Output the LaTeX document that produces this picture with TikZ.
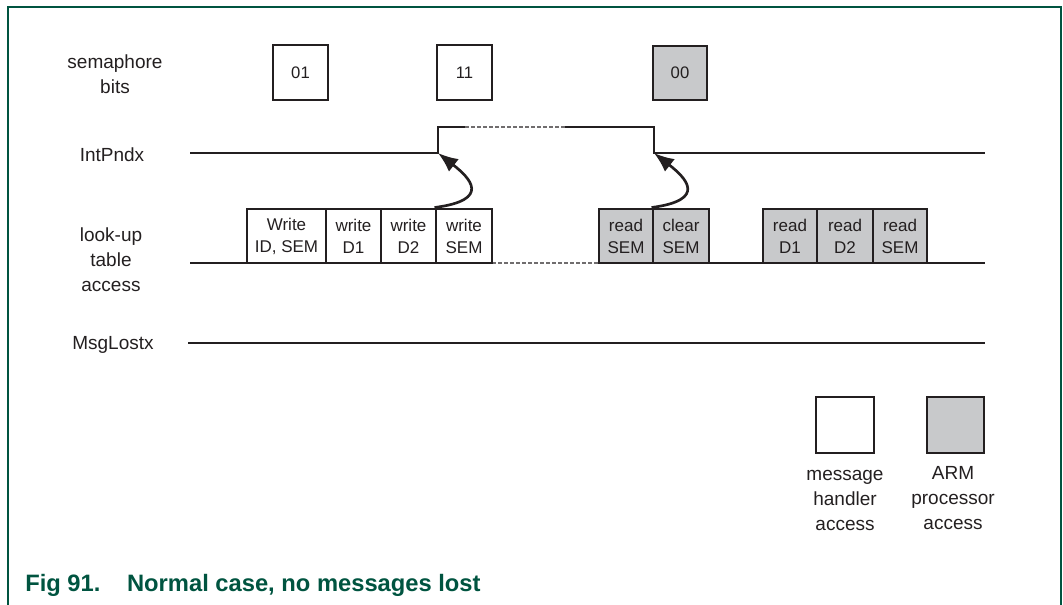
\documentclass[tikz,border=0pt]{standalone}
\usepackage{fontspec}
\setmainfont{Liberation Sans}
\usetikzlibrary{arrows.meta}
\definecolor{nxpgreen}{RGB}{0,84,64}
\definecolor{boxgray}{RGB}{200,201,203}
\definecolor{ink}{RGB}{35,31,32}
\begin{document}
\begin{tikzpicture}[x=0.75pt,y=-0.75pt,
  sig/.style={draw=ink,line width=2.2pt},
  gap/.style={draw=ink!65,line width=1.3pt,dash pattern=on 3pt off 1.5pt},
  sz/.style 2 args={minimum width=#1*0.75pt,minimum height=#2*0.75pt},
  cell/.style={draw=ink,line width=2.2pt,inner sep=0pt,align=center,text=ink,font=\fontsize{12.75}{16.5}\selectfont},
  mh/.style={cell,fill=white},
  arm/.style={cell,fill=boxgray},
  bits/.style={font=\fontsize{12.5}{14}\selectfont},
  lbl/.style={align=center,text=ink,font=\fontsize{14.25}{18.75}\selectfont},
  trig/.style={draw=ink,line width=2pt,-{Latex[length=15pt,width=12pt]}},
  frame/.style={draw=nxpgreen,line width=1.4pt}]
\useasboundingbox (0,0) rectangle (1063,605);
% frame
\draw[frame] (8,605) -- (8,7) -- (1061,7) -- (1061,605);
% row labels
\node[lbl] (Lsem) at (115,74) {semaphore\\bits};
\node[lbl] (Lint) at (112,155) {IntPndx};
\node[lbl] (Llut) at (111,260) {look-up\\table\\access};
\node[lbl] (Lmsg) at (113,345) {MsgLostx};
% semaphore bits
\node[mh,bits,sz={55}{55}] (s1) at (300.5,72.5) {01};
\node[mh,bits,sz={55}{55}] (s2) at (464.5,72.5) {11};
\node[arm,bits,sz={54}{54}] (s3) at (680,73) {00};
% IntPndx signal
\coordinate (i0) at (190,153);
\coordinate (i1) at (438,153);
\coordinate (i2) at (438,127);
\coordinate (i3) at (465,127);
\coordinate (i4) at (565,127);
\coordinate (i5) at (654,127);
\coordinate (i6) at (654,153);
\coordinate (i7) at (985,153);
\draw[sig] (i0) -- (i1) -- (i2) -- (i3);
\draw[gap] (i3) -- (i4);
\draw[sig] (i4) -- (i5) -- (i6) -- (i7);
% look-up table access line
\coordinate (l0) at (190,263);
\coordinate (l1) at (492,263);
\coordinate (l2) at (600,263);
\coordinate (l3) at (985,263);
\draw[sig] (l0) -- (l1);
\draw[gap] (l1) -- (l2);
\draw[sig] (l2) -- (l3);
% look-up table cells
\node[mh,sz={79}{54}] (w1) at (286.5,236) {Write\\ID, SEM};
\node[mh,sz={55}{54}] (w2) at (353.5,236) {write\\D1};
\node[mh,sz={55}{54}] (w3) at (408.5,236) {write\\D2};
\node[mh,sz={56}{54}] (w4) at (464,236) {write\\SEM};
\node[arm,sz={54}{54}] (r1) at (626,236) {read\\SEM};
\node[arm,sz={56}{54}] (r2) at (681,236) {clear\\SEM};
\node[arm,sz={54}{54}] (r3) at (790,236) {read\\D1};
\node[arm,sz={56}{54}] (r4) at (845,236) {read\\D2};
\node[arm,sz={54}{54}] (r5) at (900,236) {read\\SEM};
% trigger arrows
\draw[trig] (w4.north west) .. controls (492,200) and (470,178) .. (i1);
\draw[trig] (r2.north west) .. controls (708,200) and (686,178) .. (i6);
% MsgLostx signal
\coordinate (m0) at (188,343);
\coordinate (m1) at (985,343);
\draw[sig] (m0) -- (m1);
% legend
\node[mh,sz={58}{56}] (lg1) at (845,425) {};
\node[arm,sz={57}{56}] (lg2) at (955.5,425) {};
\node[lbl] (lt1) at (845,500) {message\\handler\\access};
\node[lbl] (lt2) at (953,498) {ARM\\processor\\access};
% caption
\node[anchor=base west,inner sep=0pt,text=nxpgreen,font=\fontsize{17.8}{20}\selectfont\bfseries] (cap) at (25,591) {Fig 91.\hspace{20pt}Normal case, no messages lost};
\end{tikzpicture}
\end{document}
